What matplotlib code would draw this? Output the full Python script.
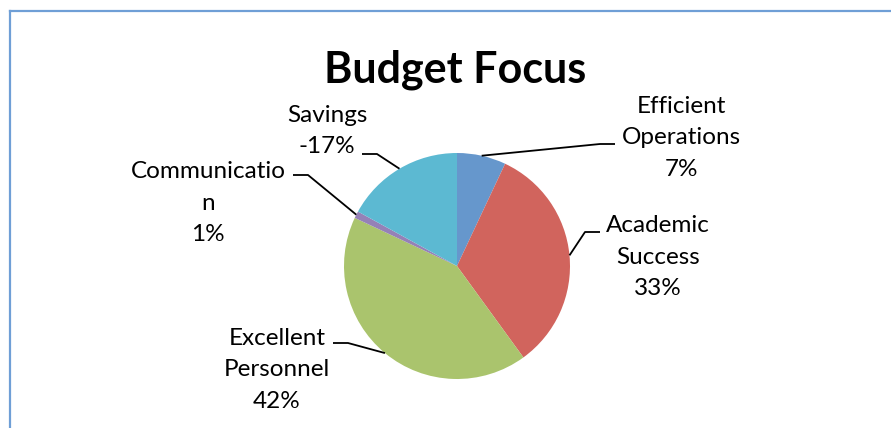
import numpy as np
import matplotlib.pyplot as plt
from matplotlib.lines import Line2D

# chart data (percent of budget, savings shown as negative)
categories = ["Efficient\nOperations", "Academic\nSuccess", "Excellent\nPersonnel",
              "Communicatio\nn", "Savings"]
percents = [7, 33, 42, 1, -17]
colors = ["#6697cc", "#d1645d", "#aac46d", "#9581b7", "#5cb9d2"]

# layout in pixels: pie centre, radius, label centres and leader elbows
W, H = 891, 428
CX, CY, R = 457, 266, 113
label_xy = [(681, 138), (658, 257), (277, 370), (208, 203), (327, 131)]
elbow = [((615, 144), (600, 144)),
         ((600, 232), (585, 232)),
         ((333, 343), (348, 343)),
         ((293, 175), (308, 175)),
         ((362, 154), (377, 154))]


def px(x, y):
    # pixel (from top-left) -> data units where the pie has radius 1
    return (x - CX) / R, (CY - y) / R


fig = plt.figure(figsize=(W / 100, H / 100), dpi=100)
ax = fig.add_axes([0, 0, 1, 1])

sizes = [abs(p) for p in percents]
wedges, _ = ax.pie(sizes, colors=colors, startangle=90, counterclock=False,
                   radius=1, center=(0, 0), wedgeprops=dict(linewidth=0))

ax.set_xlim(px(0, 0)[0], px(W, 0)[0])
ax.set_ylim(px(0, H)[1], px(0, 0)[1])
ax.set_aspect('auto')
ax.axis('off')

font = ['Lato', 'DejaVu Sans']
for w, cat, p, (lx, ly), (e0, e1) in zip(wedges, categories, percents, label_xy, elbow):
    mid = np.radians((w.theta1 + w.theta2) / 2)
    tip = (np.cos(mid), np.sin(mid))
    a, b = px(*e0), px(*e1)
    ax.plot([a[0], b[0], tip[0]], [a[1], b[1], tip[1]], color='black', lw=1.3,
            solid_capstyle='butt')
    tx, ty = px(lx, ly)
    ax.text(tx, ty, f"{cat}\n{p}%", ha='center', va='center',
            multialignment='center', fontsize=17.5, family=font, linespacing=1.63)

tx, ty = px(455, 70)
ax.text(tx, ty, "Budget Focus", ha='center', va='center', fontsize=31,
        fontweight='bold', family=font)

# chart frame (only top and left edges are visible)
fig.add_artist(Line2D([10 / W, 10 / W], [0, 1 - 11 / H], transform=fig.transFigure,
                      color='#6f9fd6', lw=1.6))
fig.add_artist(Line2D([10 / W, 1], [1 - 11 / H, 1 - 11 / H], transform=fig.transFigure,
                      color='#6f9fd6', lw=1.6))

fig.savefig("out.png", dpi=100)
